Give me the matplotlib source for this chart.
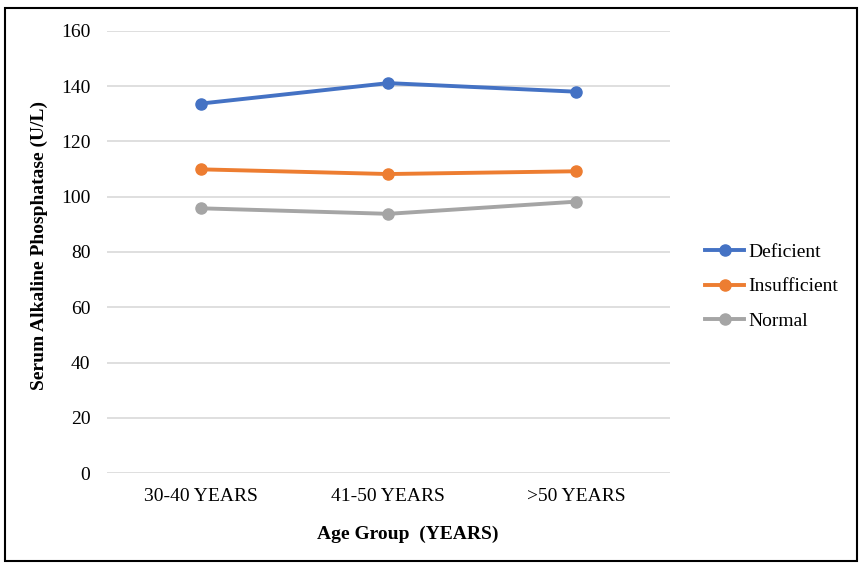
import matplotlib.pyplot as plt
from matplotlib.patches import Rectangle

plt.rcParams['font.family'] = ['Liberation Serif', 'DejaVu Serif']

groups = ["30-40 YEARS", "41-50 YEARS", ">50 YEARS"]
deficient = [133.7, 141.1, 138.0]
insufficient = [109.9, 108.2, 109.2]
normal = [95.8, 93.8, 98.2]

series = [("Deficient", deficient, "#4472C4"),
          ("Insufficient", insufficient, "#ED7D31"),
          ("Normal", normal, "#A5A5A5")]

fig = plt.figure(figsize=(8.63, 5.72), dpi=100)
ax = fig.add_axes([0.124, 0.173, 0.652, 0.773])

x = range(len(groups))
for name, vals, col in series:
    ax.plot(x, vals, color=col, lw=2.8, marker='o', markersize=8, label=name)

ax.set_xlim(-0.5, 2.5)
ax.set_ylim(0, 160)
ax.set_yticks(range(0, 161, 20))
ax.set_xticks(list(x))
ax.set_xticklabels(groups)
ax.grid(axis='y', color='#d9d9d9', lw=1.2)
ax.set_axisbelow(True)
for s in ax.spines.values():
    s.set_visible(False)
ax.tick_params(length=0, labelsize=14)
ax.tick_params(axis='y', pad=12)
ax.tick_params(axis='x', pad=11)

ax.set_ylabel("Serum Alkaline Phosphatase (U/L)", fontsize=14, fontweight='bold')
ax.set_xlabel("Age Group  (YEARS)", fontsize=14, fontweight='bold')
ax.yaxis.set_label_coords(-0.104, 0.514)
ax.xaxis.set_label_coords(0.535, -0.118)

fig.legend(loc='center left', bbox_to_anchor=(0.806, 0.499), frameon=False,
           fontsize=14, handlelength=2.0, handletextpad=0.2, labelspacing=0.87,
           borderpad=0)

fig.patches.append(Rectangle((5 / 863, 1 - 561 / 572), 852 / 863, 553 / 572,
                             transform=fig.transFigure, fill=False,
                             edgecolor='black', lw=1.5))

fig.savefig("out.png", dpi=100)
